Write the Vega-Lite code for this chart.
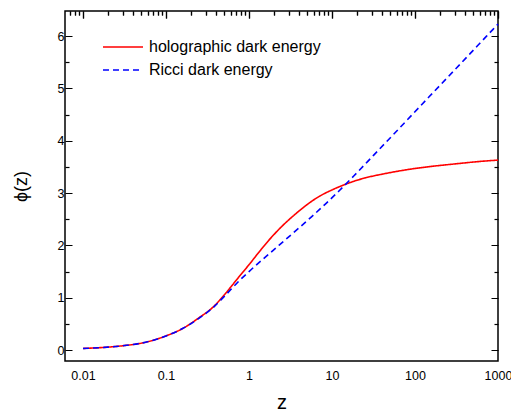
{
  "$schema": "https://vega.github.io/schema/vega-lite/v6.json",
  "width": 433,
  "height": 350,
  "autosize": {"type": "none"},
  "padding": {"left": 65, "top": 11, "right": 13, "bottom": 52},
  "config": {
    "view": {"stroke": "black", "strokeWidth": 1.5},
    "font": "Liberation Sans",
    "axis": {"grid": false, "domain": false, "tickSize": -7, "zindex": 1, "tickColor": "black", "tickWidth": 1.2, "labelColor": "black", "labelFont": "Liberation Sans", "labelFontSize": 12.5, "titleFont": "Liberation Sans", "titleColor": "black", "titleFontWeight": "normal"}
  },
  "data": {"values": [
    {"z": 0.01, "phi": 0.03, "model": "holographic dark energy"},
    {"z": 0.01995, "phi": 0.055, "model": "holographic dark energy"},
    {"z": 0.03162, "phi": 0.085, "model": "holographic dark energy"},
    {"z": 0.05012, "phi": 0.13, "model": "holographic dark energy"},
    {"z": 0.1, "phi": 0.27, "model": "holographic dark energy"},
    {"z": 0.1585, "phi": 0.41, "model": "holographic dark energy"},
    {"z": 0.2512, "phi": 0.62, "model": "holographic dark energy"},
    {"z": 0.3631, "phi": 0.81, "model": "holographic dark energy"},
    {"z": 0.5012, "phi": 1.05, "model": "holographic dark energy"},
    {"z": 0.7586, "phi": 1.40, "model": "holographic dark energy"},
    {"z": 1, "phi": 1.63, "model": "holographic dark energy"},
    {"z": 1.318, "phi": 1.87, "model": "holographic dark energy"},
    {"z": 1.738, "phi": 2.10, "model": "holographic dark energy"},
    {"z": 2.512, "phi": 2.37, "model": "holographic dark energy"},
    {"z": 3.631, "phi": 2.60, "model": "holographic dark energy"},
    {"z": 5.012, "phi": 2.78, "model": "holographic dark energy"},
    {"z": 7.079, "phi": 2.94, "model": "holographic dark energy"},
    {"z": 10, "phi": 3.06, "model": "holographic dark energy"},
    {"z": 14.62, "phi": 3.17, "model": "holographic dark energy"},
    {"z": 25.12, "phi": 3.29, "model": "holographic dark energy"},
    {"z": 39.81, "phi": 3.36, "model": "holographic dark energy"},
    {"z": 63.10, "phi": 3.42, "model": "holographic dark energy"},
    {"z": 100, "phi": 3.47, "model": "holographic dark energy"},
    {"z": 158.5, "phi": 3.51, "model": "holographic dark energy"},
    {"z": 316.2, "phi": 3.56, "model": "holographic dark energy"},
    {"z": 562.3, "phi": 3.60, "model": "holographic dark energy"},
    {"z": 1000, "phi": 3.63, "model": "holographic dark energy"},
    {"z": 0.01, "phi": 0.03, "model": "Ricci dark energy"},
    {"z": 0.01995, "phi": 0.055, "model": "Ricci dark energy"},
    {"z": 0.03162, "phi": 0.085, "model": "Ricci dark energy"},
    {"z": 0.05012, "phi": 0.13, "model": "Ricci dark energy"},
    {"z": 0.1, "phi": 0.27, "model": "Ricci dark energy"},
    {"z": 0.1585, "phi": 0.41, "model": "Ricci dark energy"},
    {"z": 0.2512, "phi": 0.61, "model": "Ricci dark energy"},
    {"z": 0.3631, "phi": 0.80, "model": "Ricci dark energy"},
    {"z": 0.5012, "phi": 1.02, "model": "Ricci dark energy"},
    {"z": 0.7586, "phi": 1.32, "model": "Ricci dark energy"},
    {"z": 1, "phi": 1.50, "model": "Ricci dark energy"},
    {"z": 1.585, "phi": 1.78, "model": "Ricci dark energy"},
    {"z": 2.754, "phi": 2.11, "model": "Ricci dark energy"},
    {"z": 3.981, "phi": 2.33, "model": "Ricci dark energy"},
    {"z": 5.794, "phi": 2.56, "model": "Ricci dark energy"},
    {"z": 8.318, "phi": 2.79, "model": "Ricci dark energy"},
    {"z": 12.13, "phi": 3.04, "model": "Ricci dark energy"},
    {"z": 18.41, "phi": 3.33, "model": "Ricci dark energy"},
    {"z": 31.62, "phi": 3.72, "model": "Ricci dark energy"},
    {"z": 63.10, "phi": 4.22, "model": "Ricci dark energy"},
    {"z": 147.9, "phi": 4.84, "model": "Ricci dark energy"},
    {"z": 316.2, "phi": 5.39, "model": "Ricci dark energy"},
    {"z": 562.3, "phi": 5.81, "model": "Ricci dark energy"},
    {"z": 1000, "phi": 6.23, "model": "Ricci dark energy"}
  ]},
  "layer": [
    {
      "mark": {"type": "line", "interpolate": "monotone", "strokeWidth": 1.6},
      "encoding": {
        "x": {"field": "z", "type": "quantitative",
          "scale": {"type": "log", "domain": [0.00607, 1000], "nice": false},
          "axis": {"orient": "bottom", "title": "z", "titleFontSize": 20, "titlePadding": 11, "ticks": false, "tickSize": 0,
            "values": [0.01, 0.1, 1, 10, 100, 1000],
            "labelExpr": "format(datum.value, '~g')",
            "labelPadding": 8, "labelFlush": false, "labelOverlap": false}},
        "y": {"field": "phi", "type": "quantitative",
          "scale": {"domain": [-0.21, 6.48], "nice": false, "zero": false},
          "axis": {"orient": "left", "title": "ϕ(z)", "titleFontSize": 18, "titlePadding": 27,
            "values": [0,0.5,1,1.5,2,2.5,3,3.5,4,4.5,5,5.5,6],
            "labelExpr": "datum.value % 1 == 0 ? format(datum.value, 'd') : ''",
            "tickDash": {"condition": {"test": "datum.value % 1 == 0", "value": [1, 0]}, "value": [4, 20]},
            "labelPadding": 8, "labelOverlap": false}},
        "color": {"field": "model", "type": "nominal",
          "scale": {"domain": ["holographic dark energy", "Ricci dark energy"], "range": ["#ff0000", "#0000ff"]},
          "legend": {"title": null, "orient": "none", "legendX": 37, "legendY": 28, "padding": 0, "labelLimit": 0,
            "symbolType": "stroke", "symbolSize": 1600, "symbolStrokeWidth": 1.5, "labelFontSize": 16, "labelFont": "Liberation Sans", "labelColor": "black", "labelOffset": 5, "clipHeight": 16, "rowPadding": 7}},
        "strokeDash": {"field": "model", "type": "nominal",
          "scale": {"domain": ["holographic dark energy", "Ricci dark energy"], "range": [[1, 0], [6, 4]]},
          "legend": {"title": null, "orient": "none", "legendX": 37, "legendY": 28, "padding": 0, "labelLimit": 0,
            "symbolType": "stroke", "symbolSize": 1600, "symbolStrokeWidth": 1.5, "labelFontSize": 16, "labelFont": "Liberation Sans", "labelColor": "black", "labelOffset": 5, "clipHeight": 16, "rowPadding": 7}}
      }
    },
    {
      "mark": {"type": "point", "opacity": 0},
      "encoding": {
        "x": {"field": "z", "type": "quantitative",
          "axis": {"orient": "top", "title": null, "labels": false,
            "values": [0.007,0.008,0.009,0.01,0.02,0.03,0.04,0.05,0.06,0.07,0.08,0.09,0.1,0.2,0.3,0.4,0.5,0.6,0.7,0.8,0.9,1,2,3,4,5,6,7,8,9,10,20,30,40,50,60,70,80,90,100,200,300,400,500,600,700,800,900,1000],
            "tickDash": {"condition": {"test": "indexof(['0.01','0.1','1','10','100','1000'], format(datum.value, '~g')) >= 0", "value": [1, 0]}, "value": [4, 20]}}},
        "y": {"field": "phi", "type": "quantitative",
          "axis": {"orient": "right", "title": null, "labels": false,
            "values": [0,0.5,1,1.5,2,2.5,3,3.5,4,4.5,5,5.5,6],
            "tickDash": {"condition": {"test": "datum.value % 1 == 0", "value": [1, 0]}, "value": [4, 20]}}}
      }
    },
    {
      "mark": {"type": "point", "opacity": 0},
      "encoding": {
        "x": {"field": "z", "type": "quantitative",
          "axis": {"orient": "bottom", "title": null, "labels": false, "ticks": false,
            "grid": true, "gridColor": "black", "gridWidth": 1.2, "gridOpacity": 1, "gridDash": [7, 1000],
            "values": [0.01, 0.1, 1, 10, 100, 1000]}},
        "y": {"field": "phi", "type": "quantitative", "axis": null}
      }
    },
    {
      "mark": {"type": "point", "opacity": 0},
      "encoding": {
        "x": {"field": "z", "type": "quantitative",
          "axis": {"orient": "bottom", "title": null, "labels": false, "ticks": false,
            "grid": true, "gridColor": "black", "gridWidth": 1.2, "gridOpacity": 1, "gridDash": [4, 1000],
            "values": [0.007,0.008,0.009,0.02,0.03,0.04,0.05,0.06,0.07,0.08,0.09,0.2,0.3,0.4,0.5,0.6,0.7,0.8,0.9,2,3,4,5,6,7,8,9,20,30,40,50,60,70,80,90,200,300,400,500,600,700,800,900]}},
        "y": {"field": "phi", "type": "quantitative", "axis": null}
      }
    }
  ],
  "resolve": {"axis": {"x": "independent", "y": "independent"}}
}
